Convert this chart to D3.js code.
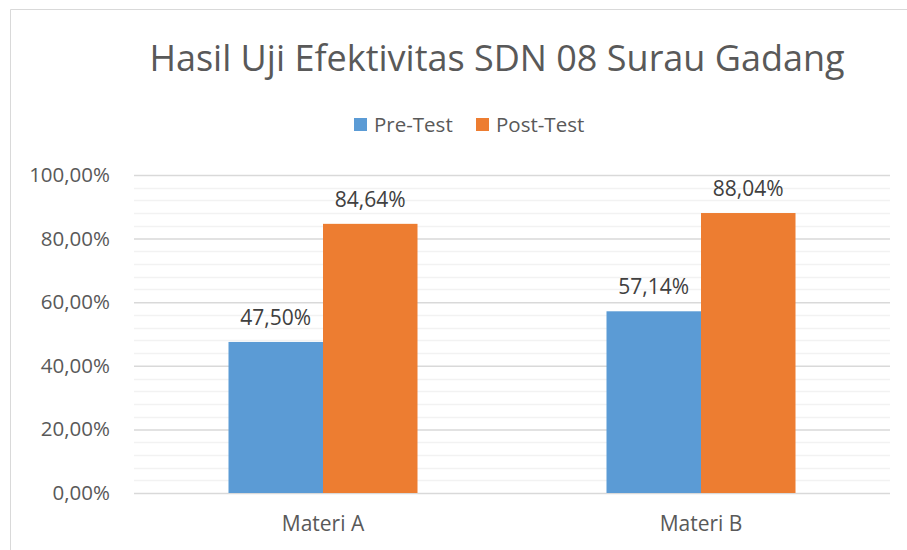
<!DOCTYPE html>
<html lang="id">
<head>
<meta charset="UTF-8">
<title>Hasil Uji Efektivitas SDN 08 Surau Gadang</title>
<style>
  body { margin: 0; background: #fff; }
  svg { display: block; font-family: "Open Sans", "Noto Sans", sans-serif; }
</style>
<script src="https://d3js.org/d3.v7.min.js"></script>
</head>
<body>
<script>
const categories = ["Materi A", "Materi B"];
const seriesNames = ["Pre-Test", "Post-Test"];
const preTest = [0.4750, 0.5714];
const postTest = [0.8464, 0.8804];
const yTicks = [0, 0.2, 0.4, 0.6, 0.8, 1.0];
const colors = ["#5B9BD5", "#ED7D31"];

const width = 907, height = 550;
const margin = { left: 134, right: 17, top: 175, bottom: 57 };

const svg = d3.select("body").append("svg")
  .attr("width", width)
  .attr("height", height);

// chart border (only top and left visible in the crop)
svg.append("path")
  .attr("d", `M10.5,${height} V9.5 H${width}`)
  .attr("fill", "none")
  .attr("stroke", "#D9D9D9");

const x = d3.scaleBand()
  .domain(categories)
  .range([margin.left, width - margin.right])
  .paddingInner(0.5).paddingOuter(0.25);

const xSub = d3.scaleBand()
  .domain(seriesNames)
  .range([0, x.bandwidth()]);

const y = d3.scaleLinear()
  .domain([0, 1])
  .range([height - margin.bottom, margin.top]);

const fmt = v => d3.format(".2f")(v * 100).replace(".", ",") + "%";

// minor gridlines every 4%
const minor = d3.range(0, 1.0001, 0.04).filter(v => Math.round(v * 100) % 20 !== 0);
svg.append("g").selectAll("line").data(minor).join("line")
  .attr("x1", margin.left).attr("x2", width - margin.right)
  .attr("y1", d => Math.round(y(d)) + 0.5).attr("y2", d => Math.round(y(d)) + 0.5)
  .attr("stroke", "#F2F2F2").attr("stroke-width", 1.5);

// y axis with major gridlines
const yAxis = svg.append("g")
  .attr("transform", `translate(${margin.left},0)`)
  .call(d3.axisLeft(y).tickValues(yTicks).tickFormat(fmt)
    .tickSize(-(width - margin.left - margin.right)).tickPadding(24));
yAxis.select(".domain").remove();
yAxis.selectAll("line").attr("stroke", "#D9D9D9").attr("stroke-width", 1.5);
yAxis.selectAll("text")
  .attr("fill", "#595959")
  .attr("font-size", 20.5)
  .attr("font-family", "Open Sans, sans-serif");

// bars
const rows = categories.map((c, i) => ({ cat: c, values: [preTest[i], postTest[i]] }));
const groups = svg.append("g").selectAll("g").data(rows).join("g")
  .attr("transform", d => `translate(${x(d.cat)},0)`);

groups.selectAll("rect")
  .data(d => d.values.map((v, j) => ({ name: seriesNames[j], v, j })))
  .join("rect")
  .attr("x", d => xSub(d.name))
  .attr("width", xSub.bandwidth())
  .attr("y", d => y(d.v))
  .attr("height", d => y(0) - y(d.v))
  .attr("fill", d => colors[d.j]);

groups.selectAll("text")
  .data(d => d.values.map((v, j) => ({ name: seriesNames[j], v, j })))
  .join("text")
  .attr("x", d => xSub(d.name) + xSub.bandwidth() / 2)
  .attr("y", d => y(d.v) - 17)
  .attr("text-anchor", "middle")
  .attr("fill", "#404040")
  .attr("font-size", 21)
  .text(d => fmt(d.v));

// x axis labels
const xAxis = svg.append("g")
  .attr("transform", `translate(0,${height - margin.bottom})`)
  .call(d3.axisBottom(x).tickSize(0).tickPadding(23));
xAxis.select(".domain").remove();
xAxis.selectAll("text")
  .attr("fill", "#595959")
  .attr("font-size", 21)
  .attr("font-family", "Open Sans, sans-serif");

// title
svg.append("text")
  .attr("x", 497).attr("y", 71)
  .attr("text-anchor", "middle")
  .attr("fill", "#595959")
  .attr("font-size", 36)
  .text("Hasil Uji Efektivitas SDN 08 Surau Gadang");

// legend
const legendX = [354, 476];
const legend = svg.append("g").selectAll("g").data(seriesNames).join("g")
  .attr("transform", (d, i) => `translate(${legendX[i]},118)`);
legend.append("rect")
  .attr("width", 13).attr("height", 13)
  .attr("fill", (d, i) => colors[i]);
legend.append("text")
  .attr("x", 20).attr("y", 14)
  .attr("fill", "#595959")
  .attr("font-size", 20.5)
  .text(d => d);
</script>
</body>
</html>
